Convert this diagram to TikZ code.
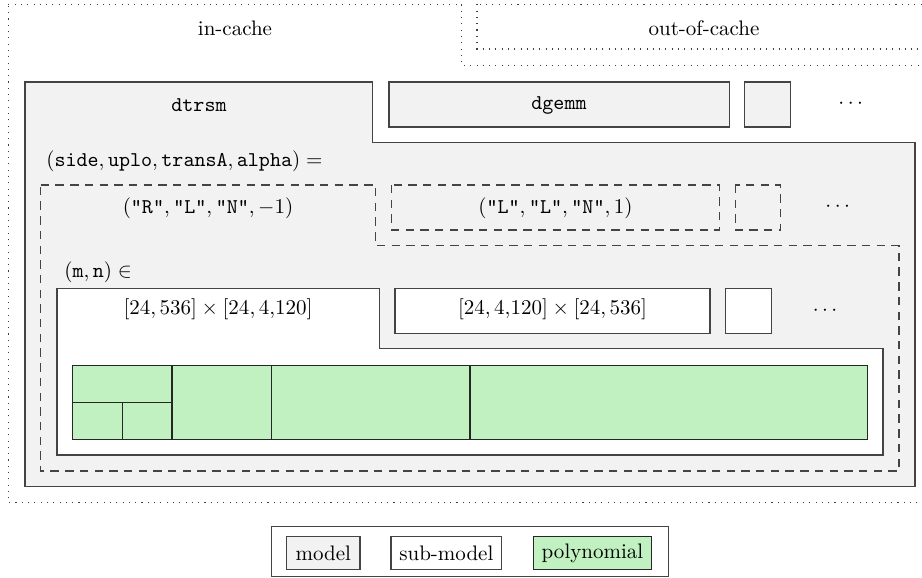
\documentclass[tikz,border=0pt]{standalone}
\definecolor{modelgray}{HTML}{F2F2F2}
\definecolor{polygreen}{HTML}{C1F0C1}
\definecolor{edgecol}{HTML}{444444}
\tikzset{
  modelbox/.style={fill=modelgray,draw=edgecol,line width=0.5pt},
  subbox/.style={fill=white,draw=edgecol,line width=0.5pt},
  polybox/.style={fill=polygreen,draw=black!85,line width=0.5pt},
  cachearea/.style={draw=black!75,dash pattern=on 0.5pt off 2.5pt,line width=0.5pt},
  paramarea/.style={draw=edgecol,dash pattern=on 4pt off 3pt,line width=0.5pt},
  lbl/.style={inner sep=0pt}
}
\begin{document}
\begin{tikzpicture}[x=0.47619pt,y=-0.47619pt]
\useasboundingbox (0,0) rectangle (922,578);
% cache areas
\draw[cachearea] (8.3,4.3) -- (461.7,4.3) -- (461.7,65.3) -- (935,65.3) -- (935,502.7) -- (8.3,502.7) -- cycle;
\draw[cachearea] (477,4.3) rectangle (935,49);
\node[lbl] (incache) at (235,28) {in-cache};
\node[lbl] (outcache) at (704,28) {out-of-cache};
% models
\draw[modelbox] (25,82) -- (372.7,82) -- (372.7,142.7) -- (915,142.7) -- (915,486.7) -- (25,486.7) -- cycle;
\draw[modelbox] (389,82) rectangle (729.3,127);
\draw[modelbox] (744.7,82) rectangle (790.7,127);
\node[lbl] (dtrsm) at (199,105) {\texttt{dtrsm}};
\node[lbl] (dgemm) at (559,105) {\texttt{dgemm}};
\node[lbl] (moremodels) at (850.7,104) {$\cdots$};
\node[lbl,anchor=west] (params) at (46,161.7) {$(\mathtt{side}, \mathtt{uplo}, \mathtt{transA}, \mathtt{alpha}) =$};
% parameter sets
\draw[paramarea] (40.7,185) -- (375.7,185) -- (375.7,245.7) -- (899,245.7) -- (899,471) -- (40.7,471) -- cycle;
\draw[paramarea] (391.7,185) rectangle (719.3,230);
\draw[paramarea] (735.3,185) rectangle (780.7,230);
\node[lbl] (parA) at (208,208) {$(\texttt{"R"}, \texttt{"L"}, \texttt{"N"}, -1)$};
\node[lbl] (parB) at (555.5,208) {$(\texttt{"L"}, \texttt{"L"}, \texttt{"N"}, 1)$};
\node[lbl] (morepar) at (837.7,207) {$\cdots$};
\node[lbl,anchor=west] (mn) at (64,272.7) {$(\mathtt{m}, \mathtt{n}) \in$};
% sub-models
\draw[subbox] (57,288.3) -- (379.3,288.3) -- (379.3,348.8) -- (883,348.8) -- (883,455) -- (57,455) -- cycle;
\draw[subbox] (395,288.3) rectangle (710,333.3);
\draw[subbox] (725.7,288.3) rectangle (771.3,333.3);
\node[lbl] (rangeA) at (218,309.5) {$[24, 536] \times [24, 4{,}120]$};
\node[lbl] (rangeB) at (552.5,309.5) {$[24, 4{,}120] \times [24, 536]$};
\node[lbl] (moresub) at (825,310.7) {$\cdots$};
% polynomials
\draw[polybox] (72.7,365.5) rectangle (172.0,402.3);
\draw[polybox] (72.7,402.3) rectangle (122.4,439.2);
\draw[polybox] (122.4,402.3) rectangle (172.0,439.2);
\draw[polybox] (172.0,365.5) rectangle (271.4,439.2);
\draw[polybox] (271.4,365.5) rectangle (470.0,439.2);
\draw[polybox] (470.0,365.5) rectangle (867.3,439.2);
% legend
\draw[draw=edgecol,line width=0.5pt] (271.7,526.7) rectangle (668.3,576.7);
\draw[modelbox] (286.7,536.7) rectangle (360,569.3);
\draw[subbox] (391,536.7) rectangle (501.7,569.3);
\draw[polybox] (533.3,536.7) rectangle (651.7,569.3);
\node[lbl] (legmodel) at (323.35,553) {model};
\node[lbl] (legsub) at (446.35,553) {sub-model};
\node[lbl] (legpoly) at (592.5,553) {polynomial};
\end{tikzpicture}
\end{document}
